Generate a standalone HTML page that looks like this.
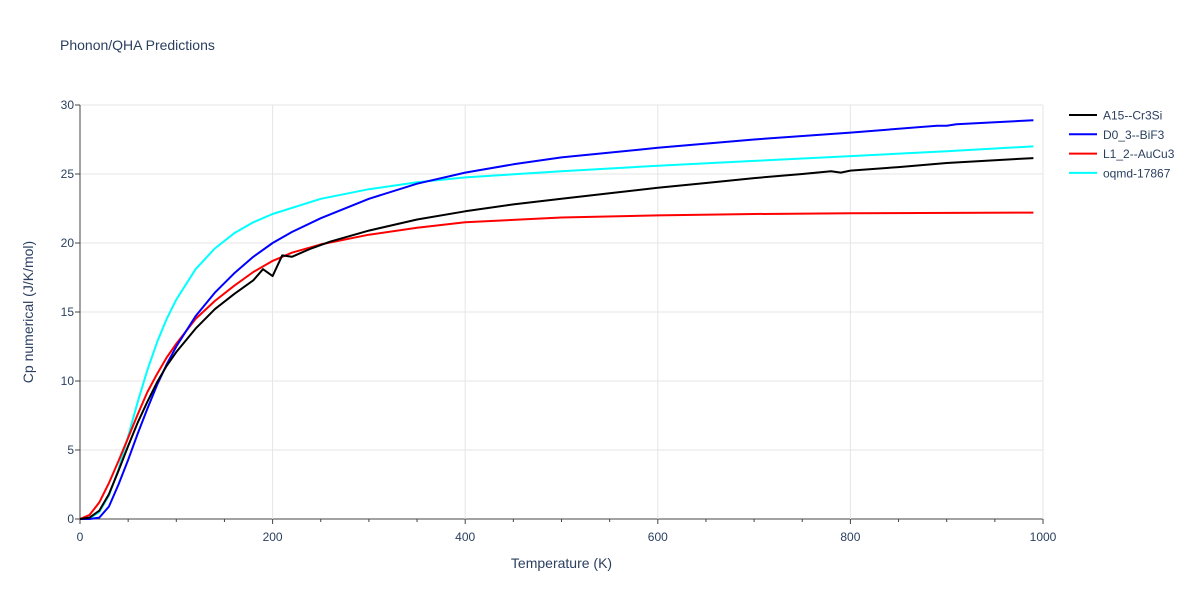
<!DOCTYPE html>
<html><head><meta charset="utf-8"><style>
body{margin:0;background:#fff;font-family:"Liberation Sans",Arial,sans-serif;}
svg text{fill:#2a3f5f;}
</style></head><body>
<svg id="chart" width="1200" height="600" xmlns="http://www.w3.org/2000/svg">
<text x="60" y="50" font-size="14">Phonon/QHA Predictions</text>
<g id="grid"></g><g id="ticks"></g><g id="lines"></g>
<text x="561.5" y="568" font-size="14" text-anchor="middle">Temperature (K)</text>
<text x="0" y="0" font-size="14" text-anchor="middle" transform="translate(33,312) rotate(-90)">Cp numerical (J/K/mol)</text>
<g id="legend"></g>
</svg>
<script>
const seriesNames=["A15--Cr3Si","D0_3--BiF3","L1_2--AuCu3","oqmd-17867"];
const seriesColors=["#000000","#0000ff","#ff0000","#00ffff"];
const tA=[0,10,20,30,40,50,60,70,80,90,100,120,140,160,180,190,200,210,220,240,260,300,350,400,450,500,550,600,650,700,750,780,790,800,850,900,950,990];
const cA=[0,0.1,0.6,1.8,3.5,5.3,7.0,8.5,9.9,11.1,12.1,13.8,15.2,16.3,17.3,18.1,17.6,19.1,19.0,19.6,20.1,20.9,21.7,22.3,22.8,23.2,23.6,24.0,24.35,24.7,25.0,25.2,25.1,25.25,25.5,25.8,26.0,26.15];
const tB=[0,10,20,30,40,50,60,70,80,90,100,120,140,160,180,200,220,250,300,350,400,450,500,600,700,800,890,900,910,990];
const cB=[0,0,0.1,0.9,2.5,4.3,6.2,8.0,9.7,11.2,12.5,14.7,16.4,17.8,19.0,20.0,20.8,21.8,23.2,24.3,25.1,25.7,26.2,26.9,27.5,28.0,28.5,28.5,28.6,28.9];
const tC=[0,10,20,30,40,50,60,70,80,90,100,120,140,160,180,200,220,250,300,350,400,500,600,700,800,990];
const cC=[0,0.3,1.2,2.6,4.2,5.9,7.6,9.2,10.5,11.7,12.7,14.5,15.8,16.9,17.9,18.7,19.3,19.9,20.6,21.1,21.5,21.85,22.0,22.1,22.15,22.2];
const tD=[0,10,20,30,40,50,60,70,80,90,100,120,140,160,180,200,250,300,350,400,500,600,700,800,900,990];
const cD=[0,0.05,0.5,1.7,3.6,6.0,8.5,10.8,12.8,14.5,15.9,18.1,19.6,20.7,21.5,22.1,23.2,23.9,24.4,24.75,25.2,25.6,25.95,26.3,26.65,27.0];
const xTicks=[0,200,400,600,800,1000];
const yTicks=[0,5,10,15,20,25,30];
const X0=80,X1=1043,Y0=519,Y1=105;
const xs=v=>X0+(X1-X0)*v/1000, ys=v=>Y0-(Y0-Y1)*v/30;
const NS="http://www.w3.org/2000/svg";
function mk(tag,attrs,parent){const e=document.createElementNS(NS,tag);for(const k in attrs)e.setAttribute(k,attrs[k]);parent.appendChild(e);return e;}
const grid=document.getElementById('grid'),ticks=document.getElementById('ticks'),lines=document.getElementById('lines'),legend=document.getElementById('legend');
yTicks.forEach(v=>{
 const l=mk('line',{x1:X0,x2:X1,y1:ys(v),y2:ys(v),stroke:v===0?'#444':'#e5e5e5','stroke-width':v===0?1:1},grid);
 
 
 const t=mk('text',{x:X0-6,y:ys(v)+4,'font-size':12,'text-anchor':'end'},ticks);t.textContent=v;
 
 
});
xTicks.forEach(v=>{
 if(v>0){const l=mk('line',{x1:xs(v),x2:xs(v),y1:Y1,y2:Y0,stroke:'#e5e5e5'},grid);
 
 }
 const t=mk('text',{x:xs(v),y:541,'font-size':12,'text-anchor':'middle'},ticks);t.textContent=v;
 
 
});
const ax=mk('line',{x1:X0,x2:X0,y1:Y1,y2:Y0,stroke:'#444'},grid);


for(let v=0;v<=1000;v+=50){const m=mk('line',{x1:xs(v),x2:xs(v),y1:Y0,y2:Y0+(v%200===0?5:3),stroke:'#444'},grid);
 
 }
for(let v=0;v<=30;v+=5){const m=mk('line',{x1:X0-5,x2:X0,y1:ys(v),y2:ys(v),stroke:'#444'},grid);
 
 }
const T=[tA,tB,tC,tD],C=[cA,cB,cC,cD];
const order=[3,2,1,0];
order.forEach(i=>{
 const d=T[i].map((t,j)=>(j?'L':'M')+xs(t).toFixed(1)+','+ys(C[i][j]).toFixed(1)).join('');
 const p=mk('path',{d:d,fill:'none',stroke:seriesColors[i],'stroke-width':2,'stroke-linejoin':'round'},lines);
 
 
});
seriesNames.forEach((n,i)=>{
 const y=115+i*19.3;
 const g=mk('g',{},legend);
 
 
 mk('line',{x1:1069,x2:1097,y1:y,y2:y,stroke:seriesColors[i],'stroke-width':2},g);
 const t=mk('text',{x:1103,y:y+4.5,'font-size':12},g);t.textContent=n;
});
</script>
</body></html>
